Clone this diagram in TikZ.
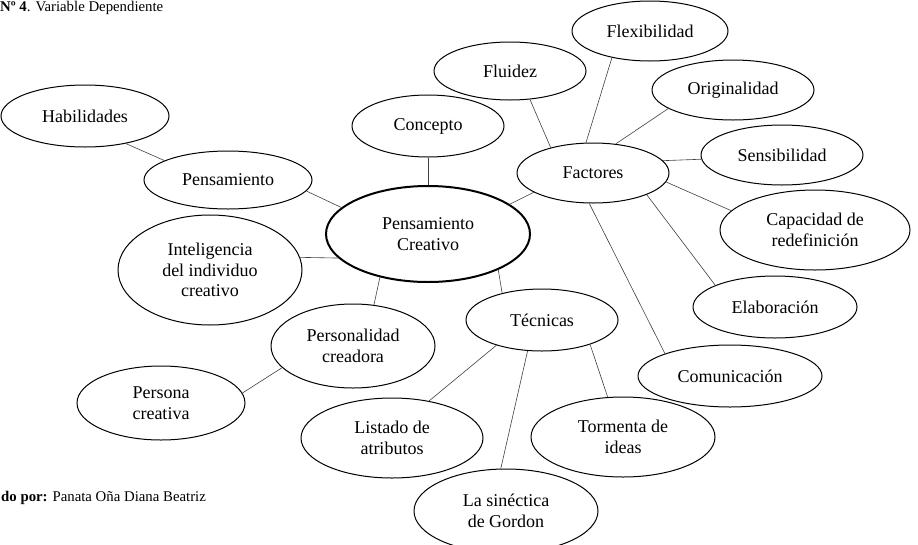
\documentclass[tikz,border=0pt]{standalone}
\usepackage{fontspec}
\setmainfont{Liberation Serif}
\usetikzlibrary{shapes.geometric}
\begin{document}
\begin{tikzpicture}[x=1pt,y=-1pt,
  el/.style={draw, ellipse, line width=1pt, inner sep=0pt, align=center,
    font=\fontsize{18}{20.8}\selectfont},
  main/.style={el, line width=2pt},
  link/.style={draw, line width=0.6pt, black!75},
  caption/.style={anchor=base west, inner sep=0pt, font=\fontsize{14.8}{17}\selectfont}]
\useasboundingbox (0,0) rectangle (918,544);

\node[caption] (head) at (0,11) {\textbf{Nº 4}. Variable Dependiente};
\node[caption] (foot) at (1,501) {\textbf{do por:} Panata Oña Diana Beatriz};

\node[el, minimum width=168pt, minimum height=62pt] (hab) at (85,116) {Habilidades};
\node[el, minimum width=168pt, minimum height=58pt] (pen) at (228,180) {Pensamiento};
\node[el, minimum width=152pt, minimum height=62pt] (con) at (428,126) {Concepto};
\node[el, minimum width=152pt, minimum height=58pt] (flu) at (510,71) {Fluidez};
\node[el, minimum width=156pt, minimum height=60pt] (fle) at (650,31) {Flexibilidad};
\node[el, minimum width=162pt, minimum height=60pt] (ori) at (733,90) {Originalidad};
\node[el, minimum width=162pt, minimum height=60pt] (sen) at (782,155) {Sensibilidad};
\node[el, minimum width=152pt, minimum height=60pt] (fac) at (593,173) {Factores};
\node[main, minimum width=204pt, minimum height=96pt] (pc) at (428,234) {Pensamiento\\Creativo};
\node[el, minimum width=190pt, minimum height=80pt] (cap) at (815,230) {Capacidad de\\redefinición};
\node[el, minimum width=184pt, minimum height=110pt] (int) at (210,270) {Inteligencia\\del individuo\\creativo};
\node[el, minimum width=164pt, minimum height=62pt] (ela) at (775,307) {Elaboración};
\node[el, minimum width=152pt, minimum height=62pt] (tec) at (542,320) {Técnicas};
\node[el, minimum width=164pt, minimum height=84pt] (per) at (353,346) {Personalidad\\creadora};
\node[el, minimum width=184pt, minimum height=62pt] (com) at (730,376) {Comunicación};
\node[el, minimum width=168pt, minimum height=74pt] (pcr) at (161,403) {Persona\\creativa};
\node[el, minimum width=182pt, minimum height=80pt] (lis) at (392,438) {Listado de\\atributos};
\node[el, minimum width=184pt, minimum height=80pt] (tor) at (623,437) {Tormenta de\\ideas};
\node[el, minimum width=184pt, minimum height=84pt] (sin) at (506,511) {La sinéctica\\de Gordon};

\draw[link] (hab.-34) -- (pen.163);
\draw[link] (pen.-8.5) -- (pc.163);
\draw[link] (con.south) -- (pc.north);
\draw[link] (int.8) -- (pc.195);
\draw[link] (pc.222) -- (per.63);
\draw[link] (per.197.5) -- (pcr.7);
\draw[link] (pc.20.6) -- (fac.198);
\draw[link] (pc.-27) -- (tec.146.6);
\draw[link] (fac.149.7) -- (flu.-55.8);
\draw[link] (fac.103) -- (fle.215.5);
\draw[link] (fac.52.5) -- (ori.196);
\draw[link] (fac.10.7) -- (sen.183.5);
\draw[link] (fac.-7.5) -- (cap.167.5);
\draw[link] (fac.-22) -- (ela.160.8);
\draw[link] (fac.-97.6) -- (com.161.6);
\draw[link] (tec.209) -- (lis.45);
\draw[link] (tec.245.7) -- (sin.97);
\draw[link] (tec.-27.9) -- (tor.111);
\end{tikzpicture}
\end{document}
